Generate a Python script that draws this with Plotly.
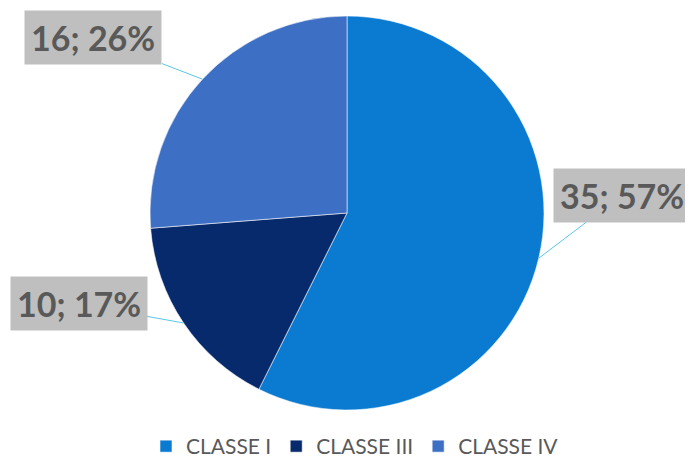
import math
import plotly.graph_objects as go

categories = ["CLASSE I", "CLASSE III", "CLASSE IV"]
counts = [35, 10, 16]
pct_labels = ["57%", "17%", "26%"]

COLORS = ["#0b7bd1", "#072a6c", "#3d6fc4"]

# the page body has an 8px margin, so the figure is drawn 8px in
W, H = 685, 459
CX, CY, R = 339, 205, 197   # pie centre / radius in figure pixels (from top-left)
DOM_X = [(CX - R) / W, (CX + R) / W]
DOM_Y = [(H - CY - R) / H, (H - CY + R) / H]
# label offsets from the slice edge, in pixels
OFFSETS = [(83, -63), (-105, -19), (-109, -42)]

fig = go.Figure()
fig.add_trace(go.Pie(
    labels=categories, values=counts, sort=False, direction="clockwise",
    rotation=0, textinfo="none", hoverinfo="label+value+percent",
    marker=dict(colors=COLORS, line=dict(color="rgba(255,255,255,0.55)", width=1)),
    domain=dict(x=DOM_X, y=DOM_Y),
))

cx = (DOM_X[0] + DOM_X[1]) / 2
cy = (DOM_Y[0] + DOM_Y[1]) / 2
rx = (DOM_X[1] - DOM_X[0]) / 2
ry = (DOM_Y[1] - DOM_Y[0]) / 2
total = sum(counts)
cum = 0
for val, pct, (ax, ay) in zip(counts, pct_labels, OFFSETS):
    mid = (cum + val / 2) / total * 2 * math.pi
    cum += val
    px = cx + rx * math.sin(mid)
    py = cy + ry * math.cos(mid)
    fig.add_annotation(x=px, y=py, xref="paper", yref="paper",
                       text=f"<b>{val}; {pct}</b>",
                       showarrow=True, arrowhead=0, arrowwidth=1, arrowcolor="#5cc6e6",
                       ax=ax, ay=ay,
                       font=dict(family="Lato", size=34, color="#595959"),
                       bgcolor="#bfbfbf", borderpad=6)

fig.update_layout(
    width=W, height=H,
    margin=dict(l=0, r=0, t=0, b=0),
    paper_bgcolor="white", plot_bgcolor="white",
    showlegend=True,
    legend=dict(orientation="h", x=347 / W, xanchor="center", y=0, yanchor="bottom",
                font=dict(family="Lato", size=21, color="#595959"),
                itemwidth=30, itemclick=False),
)

fig.write_html("out.html")
